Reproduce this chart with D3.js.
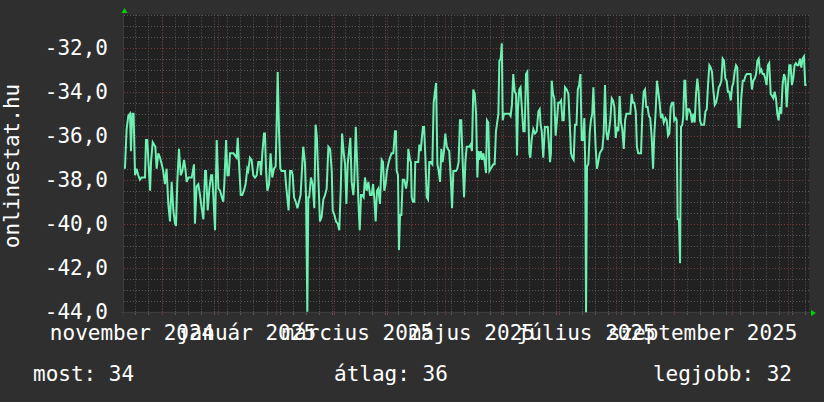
<!DOCTYPE html>
<html>
<head>
<meta charset="utf-8">
<script src="https://cdn.jsdelivr.net/npm/d3@7"></script>
<style>
  html, body { margin: 0; padding: 0; background: #2f2f2f; }
  svg { display: block; }
  text { font-family: "DejaVu Sans Mono", monospace; font-size: 21px; fill: #ffffff; }
</style>
</head>
<body>
<script>
// size of the picture
const w = 824
const h = 402

// one year window, day offsets below are counted from startDate
const startDate = new Date(Date.UTC(2024, 9, 12))
const endDate = new Date(Date.UTC(2025, 9, 12))

// y ticks and x labels
const yTicks = [-44, -42, -40, -38, -36, -34, -32]
const monthLabels = ['november 2024', 'január 2025', 'március 2025', 'május 2025', 'július 2025', 'szeptember 2025']
const labelMonths = [[2024, 10], [2025, 0], [2025, 2], [2025, 4], [2025, 6], [2025, 8]]

// legend
const legendNames = ['most', 'átlag', 'legjobb']
const legendValues = [34, 36, 32]

// [day offset, value]
const autumn = [[0.5,-37.5],[1.4,-35.7],[2.3,-35.1],[3.2,-35.0],[3.7,-36.7],[4.4,-35.0],[5.1,-35.0],[5.9,-37.8],[6.7,-37.5],[7.6,-37.8],[8.5,-38.0],[9.4,-37.9],[10.3,-37.9],[11.2,-37.9],[11.7,-36.2],[12.4,-36.2],[13.1,-37.3],[13.9,-38.5],[14.4,-37.2],[15.3,-36.3],[16.0,-36.4],[16.7,-36.5],[17.4,-37.5],[18.3,-36.8],[19.2,-37.0],[20.1,-37.3],[20.9,-37.6],[21.8,-38.2],[22.7,-37.5],[23.6,-39.1],[24.5,-39.9],[25.4,-38.1],[26.3,-39.4],[27.2,-40.0],[27.7,-40.1],[28.4,-38.1],[29.3,-36.6],[30.2,-37.8],[31.1,-37.6],[32.0,-37.1],[32.7,-37.5],[33.4,-38.1],[34.3,-37.9],[35.2,-37.9],[36.1,-37.9],[37.3,-37.3],[37.8,-40.0],[38.7,-38.3],[39.6,-38.2],[40.5,-38.7],[41.4,-39.3],[42.3,-39.8],[43.2,-37.6],[43.7,-37.6],[44.6,-39.4],[45.5,-38.4],[46.4,-37.8],[47.0,-37.8],[47.6,-38.7],[48.5,-40.3],[49.4,-36.2],[50.3,-38.4],[51.2,-38.5],[52.1,-38.8],[52.9,-39.0],[53.5,-38.1],[54.4,-36.2],[55.1,-37.8],[55.8,-37.8],[56.5,-36.8],[58.3,-36.8],[60.0,-37.0],[60.6,-36.1],[61.3,-37.3],[62.2,-38.7],[63.0,-38.7],[63.9,-38.5],[64.8,-38.2],[65.7,-37.5],[66.2,-37.6],[67.1,-37.0],[68.0,-37.1],[68.9,-37.8],[69.8,-37.9],[70.7,-37.8],[71.6,-37.2]]

const winter = [[72.5,-37.2],[73.0,-37.8],[73.7,-36.8],[74.6,-35.9],[75.1,-35.9],[75.7,-37.6],[76.4,-38.5],[77.3,-38.2],[78.1,-36.8],[79.0,-37.9],[79.9,-37.5],[80.8,-37.4],[81.3,-35.6],[81.9,-33.1],[82.6,-35.8],[83.3,-37.5],[84.0,-37.6],[84.9,-37.6],[85.8,-37.6],[86.3,-38.2],[87.0,-38.8],[87.7,-39.4],[88.5,-37.6],[89.3,-37.6],[89.9,-37.8],[90.6,-38.8],[91.5,-39.0],[92.4,-39.3],[93.2,-39.0],[94.1,-38.7],[94.8,-37.6],[95.5,-36.5],[96.4,-37.2],[97.0,-38.8],[97.7,-44.0],[98.2,-38.8],[98.7,-38.8],[99.6,-37.9],[100.5,-38.2],[101.4,-39.3],[102.1,-35.5],[102.8,-36.1],[103.5,-37.8],[104.4,-39.9],[105.3,-39.7],[106.2,-38.9],[107.1,-38.7],[108.0,-38.4],[108.9,-36.5],[109.8,-36.6],[110.7,-37.6],[111.2,-39.4],[112.1,-39.6],[113.0,-39.9],[113.9,-40.0],[114.7,-40.3],[115.5,-38.4],[116.2,-35.9],[117.1,-36.8],[117.8,-37.3],[118.5,-39.1],[119.2,-37.3],[119.9,-36.7],[120.6,-36.1],[121.3,-38.1],[122.2,-38.7],[122.7,-38.1],[123.5,-35.6],[124.2,-37.2],[124.9,-39.0],[125.6,-40.3],[126.3,-38.7],[127.0,-38.7],[127.7,-38.8],[128.4,-37.9],[129.3,-38.5],[130.2,-38.1],[131.1,-38.7],[132.0,-38.7],[132.7,-38.2],[133.4,-38.9],[134.1,-39.9],[134.8,-38.5],[135.5,-38.4],[136.4,-39.1],[137.3,-37.1],[138.0,-37.2],[138.7,-38.5],[139.4,-38.2],[140.1,-37.6],[140.8,-37.3],[141.7,-37.0],[142.6,-36.8],[143.5,-36.8]]

const spring = [[144.4,-35.8],[144.9,-35.8],[145.3,-37.6],[146.0,-37.8],[146.5,-41.2],[147.1,-39.6],[147.8,-39.6],[148.5,-38.0],[149.4,-38.0],[150.3,-38.4],[151.0,-38.0],[151.5,-36.6],[152.4,-37.1],[152.9,-37.2],[153.3,-38.8],[154.0,-39.0],[154.7,-39.0],[155.2,-37.2],[156.0,-37.2],[156.8,-37.2],[157.4,-36.4],[158.1,-36.7],[158.6,-36.2],[159.3,-35.6],[159.9,-35.6],[160.6,-37.0],[161.3,-38.8],[162.0,-38.9],[162.7,-37.2],[163.4,-37.2],[164.3,-37.3],[165.0,-34.5],[165.7,-34.0],[166.3,-33.6],[167.0,-37.3],[167.7,-37.6],[168.4,-38.1],[169.1,-36.6],[169.8,-37.2],[170.5,-36.7],[171.2,-35.9],[172.0,-36.5],[172.6,-36.6],[173.3,-36.7],[174.1,-37.9],[174.8,-39.3],[175.5,-37.6],[176.2,-37.6],[176.9,-37.6],[177.6,-37.5],[178.3,-37.2],[179.0,-35.3],[179.7,-35.3],[180.5,-37.3],[181.2,-38.8],[181.9,-37.2],[182.6,-36.5],[183.3,-36.5],[184.0,-36.5],[184.7,-36.4],[185.4,-36.7],[186.1,-33.9],[186.9,-34.1],[187.6,-35.0],[188.3,-37.9],[188.8,-36.7],[189.3,-37.1],[190.1,-36.7],[190.8,-37.1],[191.5,-36.8],[192.2,-37.2],[192.9,-37.7],[193.4,-35.3],[194.1,-35.4],[194.7,-37.6],[195.4,-37.5],[196.1,-37.4],[196.8,-37.3],[197.5,-37.3],[198.2,-35.8],[199.0,-35.3],[199.5,-35.0],[200.0,-32.6],[200.7,-32.5],[201.3,-31.8],[201.8,-35.3],[202.5,-35.0],[203.2,-35.0],[203.9,-35.0],[204.6,-35.0],[205.3,-35.0],[206.0,-35.1],[206.7,-34.6],[207.4,-33.2],[208.2,-34.0],[208.9,-34.1],[209.4,-36.9],[209.9,-34.8],[210.6,-33.9],[211.3,-33.8],[212.1,-34.9],[212.8,-35.8],[213.5,-35.8],[214.2,-33.2],[214.9,-33.1],[215.4,-34.9],[216.0,-36.8]]

const summer = [[216.5,-37.0],[217.2,-36.2],[218.1,-35.7],[219.0,-35.9],[219.9,-35.8],[220.8,-34.9],[221.5,-34.8],[222.0,-35.5],[222.6,-35.8],[223.4,-37.0],[224.3,-35.6],[225.0,-35.6],[225.8,-35.6],[226.5,-36.5],[227.0,-37.2],[227.5,-36.8],[227.9,-33.5],[228.6,-34.1],[229.3,-34.3],[230.0,-36.0],[230.7,-35.3],[231.4,-34.5],[232.2,-34.5],[232.9,-34.4],[233.6,-35.3],[234.3,-35.3],[235.0,-33.8],[235.9,-33.9],[236.8,-34.1],[237.5,-35.4],[238.2,-36.8],[238.9,-37.0],[239.6,-37.1],[240.3,-35.5],[241.1,-35.5],[241.8,-33.9],[242.5,-33.7],[243.2,-33.2],[243.9,-36.2],[244.6,-36.2],[245.3,-35.2],[245.8,-37.5],[246.2,-44.2],[246.7,-37.4],[247.4,-37.3],[248.2,-35.8],[248.8,-35.3],[249.5,-35.0],[250.1,-33.8],[250.6,-35.0],[251.3,-36.5],[252.0,-37.5],[252.7,-37.2],[253.5,-36.8],[254.2,-36.7],[254.9,-36.6],[255.6,-35.9],[256.3,-33.7],[257.0,-35.8],[257.7,-36.2],[258.4,-35.8],[259.1,-35.3],[259.9,-34.3],[260.6,-34.4],[261.3,-34.7],[262.0,-36.1],[262.7,-35.6],[263.4,-35.8],[264.1,-34.2],[264.8,-35.4],[265.5,-35.7],[266.3,-36.6],[267.0,-35.3],[267.7,-35.0],[268.4,-35.0],[269.1,-35.0],[269.8,-35.0],[270.5,-34.1],[271.2,-34.5],[271.9,-34.5],[272.7,-34.9],[273.3,-36.5],[274.0,-36.8],[274.8,-36.8],[275.5,-36.8],[276.2,-35.0],[276.9,-34.0],[277.6,-33.9],[278.3,-34.7],[279.0,-34.7],[279.7,-35.1],[280.4,-35.2],[281.2,-36.1],[281.9,-37.5],[282.6,-35.9],[283.3,-34.9],[284.0,-33.5],[284.7,-34.0],[285.4,-34.5],[286.1,-35.2],[286.8,-35.0],[287.6,-35.4]]

const fall = [[288.5,-35.2],[289.2,-35.3],[289.9,-36.0],[290.6,-35.9],[291.3,-34.7],[292.0,-34.5],[292.7,-34.5],[293.2,-35.3],[294.0,-35.2],[294.5,-35.3],[295.0,-39.8],[295.7,-39.8],[296.3,-41.8],[296.8,-35.6],[297.5,-35.5],[298.0,-35.1],[298.6,-33.5],[299.1,-33.5],[299.8,-35.3],[300.5,-34.8],[301.2,-34.8],[302.0,-35.0],[302.7,-35.4],[303.4,-35.0],[304.1,-35.4],[304.8,-34.1],[305.5,-33.4],[306.2,-34.0],[306.9,-35.3],[307.6,-35.5],[308.4,-35.5],[309.1,-35.5],[309.8,-34.9],[310.5,-34.8],[311.2,-33.7],[311.9,-32.8],[312.6,-32.9],[313.3,-33.1],[314.0,-33.9],[314.8,-34.6],[315.5,-34.5],[316.2,-34.2],[316.9,-33.8],[317.6,-33.7],[318.3,-33.5],[319.0,-32.5],[319.7,-32.6],[320.4,-33.4],[321.1,-33.5],[321.8,-34.0],[322.5,-34.0],[323.3,-34.4],[324.0,-33.8],[324.7,-33.6],[325.4,-33.1],[326.1,-32.8],[326.8,-32.9],[327.5,-35.6],[328.2,-35.6],[328.9,-34.3],[329.7,-33.5],[330.4,-33.5],[331.1,-33.3],[331.8,-33.2],[332.5,-33.2],[333.2,-33.2],[333.9,-33.2],[334.6,-33.9],[335.3,-33.5],[336.1,-33.4],[336.8,-33.2],[337.5,-32.6],[338.2,-32.5],[338.9,-33.1],[339.6,-33.0],[340.3,-33.2],[341.0,-33.2],[341.7,-33.4],[342.4,-33.7],[343.1,-32.8],[343.8,-32.7],[344.6,-34.1],[345.3,-34.2],[346.0,-34.3],[346.7,-34.0],[347.4,-34.3],[348.1,-35.0],[348.8,-35.3],[349.5,-34.7],[350.2,-35.0],[350.9,-33.7],[351.7,-33.2],[352.4,-33.4],[353.1,-34.7],[353.8,-33.7],[354.5,-32.8],[355.2,-32.8],[355.9,-33.7],[356.6,-33.4],[357.3,-32.8],[358.0,-32.7],[358.7,-32.8],[359.4,-32.8],[360.2,-32.5],[360.9,-32.9],[361.6,-32.5],[362.3,-32.4],[363.0,-33.7],[363.7,-33.7]]

const series = autumn.concat(winter, spring, summer, fall)

// number format with comma decimal and plain minus
const huLocale = d3.formatLocale({ decimal: ',', thousands: ' ', grouping: [3], currency: ['', ''], minus: '-' })
const fmt = huLocale.format('.1f')

// colours
const canvasColor = '#212121'
const minorColor = '#585858'
const majorColor = '#7a3838'
const lineColor = '#6ef0b2'
const arrowColor = '#00d000'

const svg = d3.select('body')
    .append('svg')
    .attr('width', w)
    .attr('height', h)

svg.append('rect')
    .attr('width', w)
    .attr('height', h)
    .attr('fill', '#2f2f2f')

// scales
const x = d3.scaleUtc().domain([startDate, endDate]).range([124, 809])
const y = d3.scaleLinear().domain([-44, -30.5]).range([311.7, 14.7])
const dayToDate = d => new Date(startDate.getTime() + d * 864e5)
const px = v => Math.round(v) + 0.5

// canvas
svg.append('rect')
    .attr('x', x.range()[0])
    .attr('y', y.range()[1])
    .attr('width', x.range()[1] - x.range()[0])
    .attr('height', y.range()[0] - y.range()[1])
    .attr('fill', canvasColor)

const grid = svg.append('g').attr('stroke-width', 1).attr('stroke-dasharray', '1,2')

// horizontal grid, minor every half, major on ticks
const minorY = d3.range(-44, -30.49, 0.5).filter(v => yTicks.indexOf(v) < 0)
grid.selectAll('.hmin')
    .data(minorY)
    .enter()
    .append('line')
    .attr('x1', 124).attr('x2', 809)
    .attr('y1', d => px(y(d))).attr('y2', d => px(y(d)))
    .attr('stroke', minorColor)

// vertical grid, weekly minor and monthly major
const fridays = d3.utcFriday.range(startDate, endDate)
const months = d3.utcMonth.range(startDate, endDate)
grid.selectAll('.vmin')
    .data(fridays)
    .enter()
    .append('line')
    .attr('x1', d => px(x(d))).attr('x2', d => px(x(d)))
    .attr('y1', 14.7).attr('y2', 312)
    .attr('stroke', minorColor)

grid.selectAll('.hmaj')
    .data(yTicks)
    .enter()
    .append('line')
    .attr('x1', 124).attr('x2', 809)
    .attr('y1', d => px(y(d))).attr('y2', d => px(y(d)))
    .attr('stroke', majorColor)

grid.selectAll('.vmaj')
    .data(months)
    .enter()
    .append('line')
    .attr('x1', d => px(x(d))).attr('x2', d => px(x(d)))
    .attr('y1', 14.7).attr('y2', 312)
    .attr('stroke', majorColor)

// small ticks on the axes
svg.selectAll('.tmin')
    .data(fridays)
    .enter()
    .append('line')
    .attr('x1', d => px(x(d))).attr('x2', d => px(x(d)))
    .attr('y1', 311).attr('y2', 315)
    .attr('stroke', minorColor)
svg.selectAll('.tmaj')
    .data(months)
    .enter()
    .append('line')
    .attr('x1', d => px(x(d))).attr('x2', d => px(x(d)))
    .attr('y1', 311).attr('y2', 315)
    .attr('stroke', majorColor)

// axis lines
svg.append('line')
    .attr('x1', 121).attr('x2', 812)
    .attr('y1', 312.5).attr('y2', 312.5)
    .attr('stroke', '#3c3c3c')
svg.append('line')
    .attr('x1', 123.5).attr('x2', 123.5)
    .attr('y1', 11).attr('y2', 315)
    .attr('stroke', '#3c3c3c')

// the data line
svg.append('clipPath')
    .attr('id', 'clip')
    .append('rect')
    .attr('x', 124).attr('y', 14.7)
    .attr('width', 685).attr('height', 297.5)

const line = d3.line()
    .x(d => x(dayToDate(d[0])))
    .y(d => y(d[1]))

svg.append('path')
    .datum(series)
    .attr('d', line)
    .attr('clip-path', 'url(#clip)')
    .attr('fill', 'none')
    .attr('stroke', lineColor)
    .attr('stroke-width', 2)
    .attr('stroke-linejoin', 'miter')

// arrows
svg.append('path')
    .attr('d', 'M121.5,13 L127.5,13 L124.5,8 Z')
    .attr('fill', arrowColor)
svg.append('path')
    .attr('d', 'M811,310 L811,316 L816,313 Z')
    .attr('fill', arrowColor)

// y labels
svg.selectAll('.ylab')
    .data(yTicks)
    .enter()
    .append('text')
    .attr('x', 108)
    .attr('y', d => y(d) + 7.5)
    .attr('text-anchor', 'end')
    .text(d => fmt(d))

// x labels, rrdtool puts them half a month before the month line
const labelShift = 29.5
svg.selectAll('.xlab')
    .data(monthLabels)
    .enter()
    .append('text')
    .attr('x', (d, i) => x(new Date(Date.UTC(labelMonths[i][0], labelMonths[i][1], 1))) - labelShift)
    .attr('y', 340)
    .attr('text-anchor', 'middle')
    .text(d => d)

// vertical title
svg.append('text')
    .attr('transform', 'translate(19,166) rotate(-90)')
    .attr('text-anchor', 'middle')
    .text('onlinestat.hu')

// legend
const legendX = [33, 334, 792]
const legendAnchor = ['start', 'start', 'end']
svg.selectAll('.legend')
    .data(legendNames)
    .enter()
    .append('text')
    .attr('x', (d, i) => legendX[i])
    .attr('y', 381)
    .attr('text-anchor', (d, i) => legendAnchor[i])
    .text((d, i) => d + ': ' + legendValues[i])
</script>
</body>
</html>
